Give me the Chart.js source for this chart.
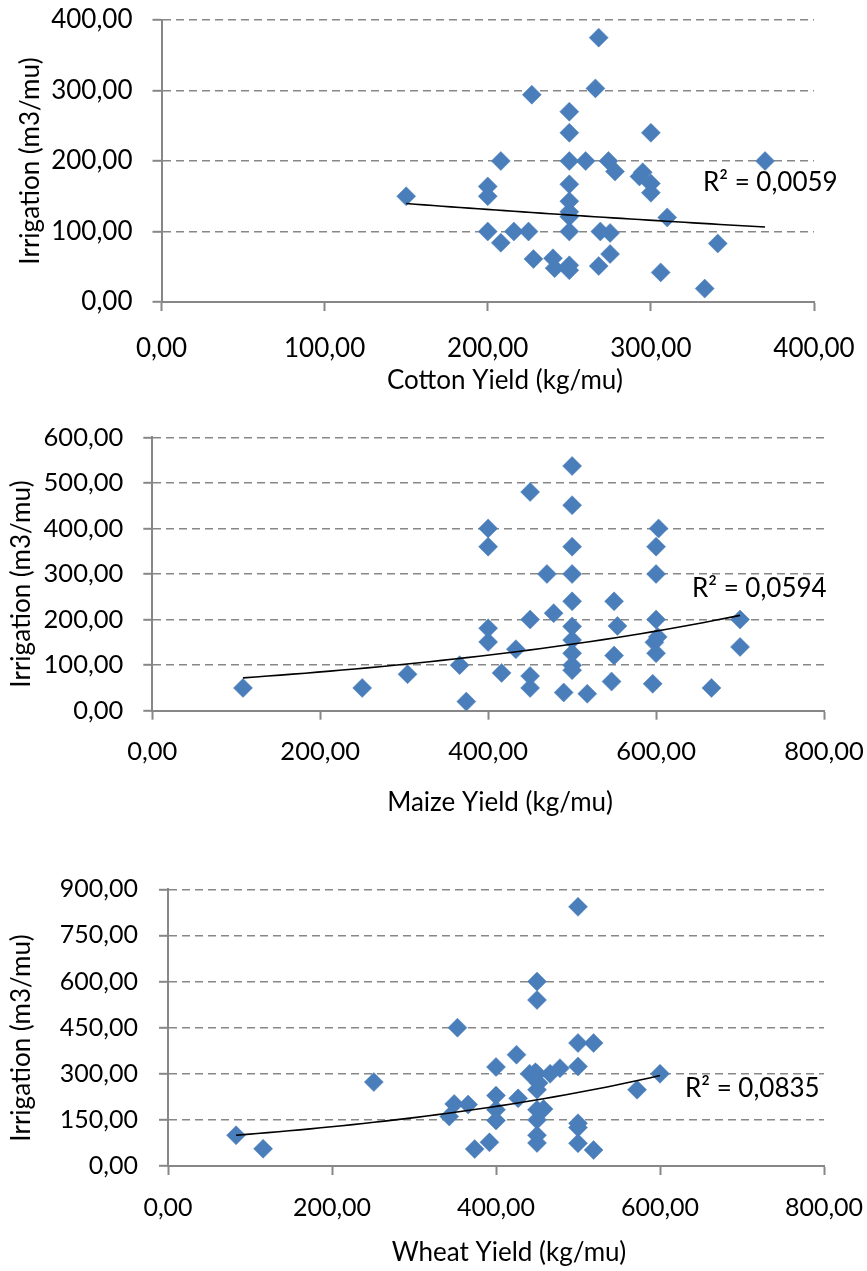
<!DOCTYPE html>
<html><head><meta charset="utf-8">
<script src="https://cdn.jsdelivr.net/npm/chart.js@4.4.1/dist/chart.umd.min.js"></script>
<style>
html,body{margin:0;padding:0;background:#fff;}
#wrap{position:relative;width:867px;height:1271px;overflow:hidden;background:#fff;}
canvas{position:absolute;left:0;}
</style></head><body><div id="wrap">
<canvas id="c1" width="867" height="410" style="top:0px"></canvas>
<canvas id="c2" width="867" height="440" style="top:410px"></canvas>
<canvas id="c3" width="867" height="421" style="top:850px"></canvas>
</div>
<script>
// ---- Data ----
const cottonYield = [150, 268, 266, 227, 250, 250, 300, 208, 250, 260, 274, 278, 370, 295, 293, 300, 300, 200, 200, 250, 250, 250, 250, 310, 200, 216, 225, 250, 269, 275, 208, 341, 275, 228, 240, 241, 250, 250, 268, 306, 333];
const cottonIrrigation = [150, 375, 303, 294, 270, 240, 240, 200, 200, 200, 200, 185, 200, 184, 178, 168, 155, 164, 150, 167, 143, 128, 121, 120, 100, 100, 100, 100, 100, 98, 84, 83, 68, 61, 62, 48, 52, 45, 51, 42, 19];
const cottonXTicks = [0, 100, 200, 300, 400];
const cottonYTicks = [0, 100, 200, 300, 400];
const cottonR2 = 'R² = 0,0059';

const maizeYield = [108, 250, 304, 366, 374, 400, 400, 400, 400, 416, 433, 450, 450, 450, 450, 470, 478, 500, 500, 500, 500, 500, 500, 500, 500, 500, 500, 490, 518, 547, 550, 554, 550, 603, 600, 600, 600, 602, 598, 600, 596, 666, 700, 700];
const maizeIrrigation = [50, 50, 80, 100, 20, 400, 360, 181, 151, 83, 135, 480, 200, 76, 50, 300, 214, 537, 451, 360, 300, 240, 185, 155, 126, 100, 89, 40, 37, 64, 240, 186, 121, 400, 360, 300, 200, 162, 150, 126, 59, 50, 200, 140];
const maizeXTicks = [0, 200, 400, 600, 800];
const maizeYTicks = [0, 100, 200, 300, 400, 500, 600];
const maizeR2 = 'R² = 0,0594';

const wheatYield = [83, 116, 251, 353, 349, 343, 366, 374, 392, 400, 400, 400, 400, 425, 427, 441, 448, 450, 450, 450, 450, 450, 450, 450, 450, 458, 466, 478, 500, 519, 500, 500, 500, 500, 500, 519, 572, 600, 452];
const wheatIrrigation = [100, 56, 273, 450, 202, 161, 200, 55, 77, 322, 229, 183, 148, 362, 220, 300, 305, 600, 540, 300, 248, 183, 150, 100, 75, 185, 300, 318, 400, 400, 324, 843, 139, 125, 74, 52, 248, 300, 270];
const wheatXTicks = [0, 200, 400, 600, 800];
const wheatYTicks = [0, 150, 300, 450, 600, 750, 900];
const wheatR2 = 'R² = 0,0835';

const yTitle = 'Irrigation (m3/mu)';

// ---- helpers ----
const BLUE = '#4A7EBB';
const GRID = '#878787';
const fmt = v => Number(v).toFixed(2).replace('.', ',');

// Exponential least-squares trendline (as the spreadsheet's trendline), computed from the data
function expFit(xs, ys) {
  const n = xs.length; let sx = 0, sy = 0, sxx = 0, sxy = 0;
  for (let i = 0; i < n; i++) { const ly = Math.log(ys[i]); sx += xs[i]; sy += ly; sxx += xs[i] * xs[i]; sxy += xs[i] * ly; }
  const b = (n * sxy - sx * sy) / (n * sxx - sx * sx);
  const a = Math.exp((sy - b * sx) / n);
  return { a, b };
}
function trendPoints(xs, ys) {
  const { a, b } = expFit(xs, ys);
  const lo = Math.min(...xs), hi = Math.max(...xs);
  const pts = [];
  for (let i = 0; i <= 40; i++) { const x = lo + (hi - lo) * i / 40; pts.push({ x, y: a * Math.exp(b * x) }); }
  return pts;
}

const textPlugin = {
  id: 'texts',
  afterDraw(chart, args, o) {
    const ctx = chart.ctx;
    ctx.save();
    ctx.fillStyle = '#000';
    ctx.font = o.size + 'px Lato';
    ctx.textBaseline = 'middle';
    ctx.textAlign = 'center';
    ctx.fillText(o.xTitle, o.xTitlePos[0], o.xTitlePos[1]);
    ctx.save();
    ctx.translate(o.yTitlePos[0], o.yTitlePos[1]);
    ctx.rotate(-Math.PI / 2);
    ctx.fillText(o.yTitle, 0, 0);
    ctx.restore();
    ctx.textAlign = 'left';
    ctx.fillText(o.r2, o.r2Pos[0], o.r2Pos[1]);
    ctx.restore();
  }
};

function noPad(s) { s.paddingTop = 0; s.paddingBottom = 0; s.paddingLeft = 0; s.paddingRight = 0; }

function makeChart(id, xs, ys, xTicks, yTicks, lay, texts) {
  const pts = xs.map((x, i) => ({ x, y: ys[i] }));
  return new Chart(document.getElementById(id), {
    type: 'scatter',
    data: {
      datasets: [
        { type: 'line', data: trendPoints(xs, ys), borderColor: '#000', borderWidth: 1.6, pointRadius: 0, tension: 0, fill: false },
        { data: pts, pointStyle: 'rectRot', pointRadius: 9.5, pointHoverRadius: 9.5, backgroundColor: BLUE, borderColor: BLUE, borderWidth: 0.5 }
      ]
    },
    options: {
      responsive: false, animation: false, events: [],
      layout: { padding: { left: 0, right: lay.right, top: lay.top, bottom: 0 } },
      plugins: { legend: { display: false }, tooltip: { enabled: false }, texts: texts },
      scales: {
        x: {
          type: 'linear', min: xTicks[0], max: xTicks[xTicks.length - 1],
          afterBuildTicks: s => { s.ticks = xTicks.map(v => ({ value: v })); },
          afterFit: s => { s.height = lay.xH; noPad(s); },
          grid: { drawOnChartArea: false, drawTicks: true, tickLength: 9, tickColor: GRID, tickWidth: 2, tickBorderDash: [] },
          border: { display: true, color: GRID, width: 2 },
          ticks: { color: '#000', font: { family: 'Lato', size: lay.fs }, padding: lay.xPad, maxRotation: 0, autoSkip: false, callback: v => fmt(v) }
        },
        y: {
          type: 'linear', min: yTicks[0], max: yTicks[yTicks.length - 1],
          afterBuildTicks: s => { s.ticks = yTicks.map(v => ({ value: v })); },
          afterFit: s => { s.width = lay.yW; noPad(s); },
          grid: { color: GRID, lineWidth: 1.6, drawTicks: true, tickLength: 9, tickColor: GRID, tickWidth: 2, tickBorderDash: [] },
          border: { display: true, color: GRID, width: 2, dash: [8, 5] },
          ticks: { color: '#000', font: { family: 'Lato', size: lay.fs }, padding: lay.yPad, autoSkip: false, callback: v => fmt(v) }
        }
      }
    },
    plugins: [textPlugin]
  });
}

makeChart('c1', cottonYield, cottonIrrigation, cottonXTicks, cottonYTicks,
  { right: 53, top: 20, xH: 108, yW: 161.5, fs: 26, xPad: 22, yPad: 20 },
  { size: 26, xTitle: 'Cotton Yield (kg/mu)', xTitlePos: [505, 381], yTitle: yTitle, yTitlePos: [31, 161], r2: cottonR2, r2Pos: [703, 183] });

makeChart('c2', maizeYield, maizeIrrigation, maizeXTicks, maizeYTicks,
  { right: 43, top: 27.3, xH: 139.3, yW: 152.3, fs: 25.5, xPad: 17, yPad: 20 },
  { size: 26, xTitle: 'Maize Yield (kg/mu)', xTitlePos: [500, 393], yTitle: yTitle, yTitlePos: [22, 174], r2: maizeR2, r2Pos: [692, 179] });

makeChart('c3', wheatYield, wheatIrrigation, wheatXTicks, wheatYTicks,
  { right: 43, top: 39.3, xH: 105, yW: 168, fs: 25, xPad: 18, yPad: 21 },
  { size: 26, xTitle: 'Wheat Yield (kg/mu)', xTitlePos: [509, 403], yTitle: yTitle, yTitlePos: [22, 188], r2: wheatR2, r2Pos: [685, 239] });
</script>
</body></html>
